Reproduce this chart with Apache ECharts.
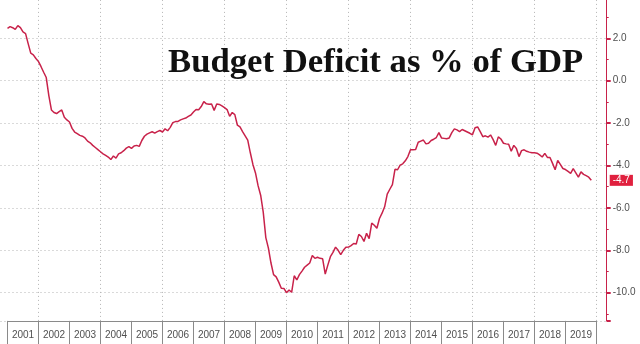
<!DOCTYPE html>
<html>
<head>
<meta charset="utf-8">
<script src="https://cdn.jsdelivr.net/npm/echarts@6/dist/echarts.min.js"></script>
<style>html,body{margin:0;padding:0;background:#fff}#c{width:640px;height:344px}</style>
</head>
<body>
<div id="c"></div>
<script>
const titleText = 'Budget Deficit as % of GDP';
const years = ['2001','2002','2003','2004','2005','2006','2007','2008','2009','2010','2011','2012','2013','2014','2015','2016','2017','2018','2019'];
const startYear = 2001;
const lastLabel = '-4.7';
const lastValue = -4.7;
// monthly budget balance, % of GDP, Jan 2001 onwards
const deficit = [
 2.47, 2.55, 2.5, 2.42, 2.6, 2.5, 2.3, 2.22, 1.75, 1.3, 1.22, 1.05,
 0.9, 0.66, 0.4, 0.15, -0.7, -1.38, -1.5, -1.55, -1.46, -1.38, -1.72, -1.85,
 -1.95, -2.25, -2.42, -2.5, -2.58, -2.62, -2.7, -2.85, -2.93, -3.05, -3.15, -3.25,
 -3.35, -3.45, -3.52, -3.6, -3.72, -3.55, -3.65, -3.45, -3.4, -3.3, -3.18, -3.11,
 -3.19, -3.08, -3.05, -3.1, -2.82, -2.62, -2.52, -2.46, -2.41, -2.47, -2.4, -2.35,
 -2.42, -2.27, -2.36, -2.2, -1.98, -1.93, -1.92, -1.85, -1.8, -1.76, -1.68, -1.62,
 -1.48, -1.36, -1.37, -1.22, -0.99, -1.09, -1.11, -1.1, -1.4, -1.1, -1.12, -1.19,
 -1.27, -1.36, -1.68, -1.5, -1.6, -2.1, -2.18, -2.4, -2.6, -2.8, -3.4, -3.95,
 -4.35, -4.95, -5.4, -6.2, -7.4, -7.9, -8.6, -9.15, -9.25, -9.5, -9.79, -9.8,
 -10.0, -9.87, -9.98, -9.2, -9.4, -9.15, -8.98, -8.8, -8.7, -8.6, -8.25, -8.38,
 -8.33, -8.38, -8.4, -9.12, -8.7, -8.3, -8.1, -7.85, -8.0, -8.2, -8.0, -7.86,
 -7.85, -7.78, -7.68, -7.7, -7.25, -7.35, -7.58, -7.2, -7.45, -6.72, -6.82, -6.96,
 -6.5, -6.25, -5.95, -5.35, -5.12, -4.9, -4.18, -4.2, -3.98, -3.92, -3.78, -3.58,
 -3.26, -3.26, -3.25, -2.9, -2.85, -2.8, -2.98, -2.95, -2.82, -2.76, -2.68, -2.45,
 -2.7, -2.72, -2.74, -2.7, -2.45, -2.27, -2.32, -2.4, -2.3, -2.36, -2.42, -2.48,
 -2.55, -2.22, -2.18, -2.4, -2.64, -2.6, -2.66, -2.56, -2.78, -3.05, -2.65, -2.75,
 -2.95, -2.98, -3.0, -3.33, -3.05, -3.2, -3.58, -3.3, -3.26, -3.33, -3.37, -3.4,
 -3.4, -3.42, -3.5, -3.6, -3.43, -3.62, -3.62, -3.9, -4.2, -3.76, -3.95, -4.14,
 -4.19, -4.28, -4.37, -4.15, -4.35, -4.55, -4.3, -4.42, -4.48, -4.55, -4.7
];

const RED = '#c8224a';
const FONT = '"Liberation Sans", Arial, sans-serif';
const chart = echarts.init(document.getElementById('c'), null, {renderer: 'canvas'});
const lineData = deficit.map((v, i) => [startYear + i / 12, v]);

chart.setOption({
  animation: false,
  backgroundColor: '#ffffff',
  grid: [
    {left: -23.5, right: 33.3, top: -4.1, bottom: 23.1, containLabel: false, outerBoundsMode: 'none'},
    {left: 7.5, right: 43.5, top: 320.9, bottom: 0, containLabel: false, outerBoundsMode: 'none'}
  ],
  xAxis: [
    {
      type: 'value', gridIndex: 0, min: 2000, max: 2020.33, interval: 2,
      axisLine: {show: false}, axisTick: {show: false}, axisLabel: {show: false},
      splitLine: {show: true, lineStyle: {color: '#b4b4b4', type: [1, 3], width: 1}}
    },
    {
      type: 'category', gridIndex: 1, data: years, position: 'top', boundaryGap: true,
      axisLine: {show: true, onZero: false, lineStyle: {color: '#8a8a8a', width: 1}},
      axisTick: {show: true, inside: true, length: 24, alignWithLabel: false, lineStyle: {color: '#8a8a8a', width: 1}},
      axisLabel: {show: true, inside: true, margin: 9, fontSize: 10, color: '#505050',
        fontFamily: FONT, interval: 0},
      splitLine: {show: false}
    }
  ],
  yAxis: [
    {
      type: 'value', gridIndex: 0, position: 'right', min: -11.33, max: 4, splitNumber: 7,
      axisLine: {show: true, onZero: false, lineStyle: {color: RED, width: 1}},
      axisTick: {show: true, length: 4, lineStyle: {color: RED, width: 2}},
      minorTick: {show: true, splitNumber: 2, length: 2, lineStyle: {color: RED, width: 1}},
      axisLabel: {show: true, margin: 6, fontSize: 10, color: '#505050', showMinLabel: false, showMaxLabel: false,
        fontFamily: FONT, align: 'left',
        formatter: v => v.toFixed(1)},
      splitLine: {show: true, lineStyle: {color: '#b4b4b4', type: [1, 3], width: 1}}
    },
    {type: 'value', gridIndex: 1, min: 0, max: 1, show: false}
  ],
  series: [{
    type: 'line', xAxisIndex: 0, yAxisIndex: 0, data: lineData,
    showSymbol: false, symbol: 'none',
    lineStyle: {color: RED, width: 1.5},
    itemStyle: {color: RED},
    markLine: {
      silent: true, symbol: ['none', 'none'],
      lineStyle: {color: 'rgba(0,0,0,0)', width: 0},
      data: [{yAxis: lastValue}],
      label: {show: true, position: 'end', distance: 3, formatter: lastLabel,
        color: '#fff', backgroundColor: '#e0203e', padding: [1, 3, 0, 3], fontSize: 10,
        fontFamily: FONT}
    }
  }],
  graphic: [{
    type: 'text', left: 168, top: 46, z: 10,
    style: {text: titleText, fill: '#111', font: 'bold 34.7px "Liberation Serif", serif'}
  }]
});
</script>
</body>
</html>
